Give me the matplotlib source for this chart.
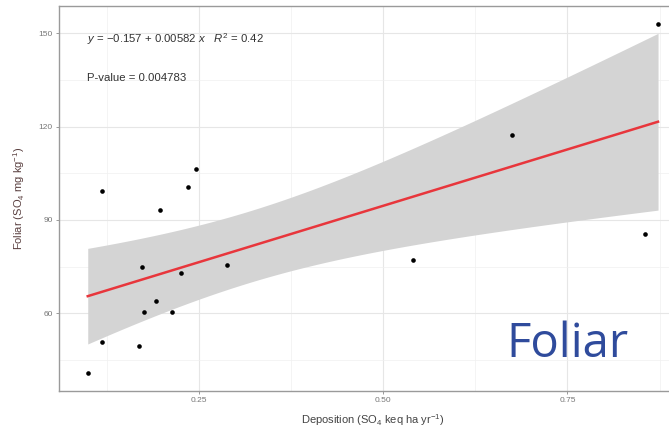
import numpy as np
import matplotlib
matplotlib.use("Agg")
import matplotlib.pyplot as plt
from matplotlib.ticker import FixedLocator

plt.rcParams['font.family'] = ['Liberation Sans', 'DejaVu Sans']
plt.rcParams['mathtext.fontset'] = 'custom'
plt.rcParams['mathtext.rm'] = 'Liberation Sans'
plt.rcParams['mathtext.it'] = 'Liberation Sans:italic'
plt.rcParams['mathtext.bf'] = 'Liberation Sans:bold'

# ---- data ----
deposition = [0.099, 0.118, 0.119, 0.168, 0.172, 0.176, 0.191, 0.197, 0.213,
              0.225, 0.235, 0.246, 0.288, 0.541, 0.675, 0.855, 0.873]
foliar = [40.9, 99.3, 50.8, 49.5, 75.0, 60.4, 64.0, 93.2, 60.4,
          73.0, 100.6, 106.3, 75.5, 77.2, 117.4, 85.6, 153.0]
x_ticks = [0.25, 0.50, 0.75]
x_tick_labels = ["0.25", "0.50", "0.75"]
y_ticks = [60, 90, 120, 150]
y_tick_labels = ["60", "90", "120", "150"]
eq_text = r"$y$ = $-$0.157 + 0.00582 $x$   $R^2$ = 0.42"
p_text = "P-value = 0.004783"
x_label = r"Deposition (SO$_4$ keq ha yr$^{-1}$)"
y_label = r"Foliar (SO$_4$ mg kg$^{-1}$)"
t_crit = 2.131  # t(0.975, df=15)

x = np.array(deposition)
y = np.array(foliar)

fig = plt.figure(figsize=(6.69, 4.33), dpi=100)
W, H = 669, 433
ax = fig.add_axes([59 / W, (H - 391) / H, (687 - 59) / W, (391 - 6) / H])

# linear fit with 95% confidence band
slope, intercept = np.polyfit(x, y, 1)
n = len(x)
resid = y - (intercept + slope * x)
s = np.sqrt(np.sum(resid ** 2) / (n - 2))
sxx = np.sum((x - x.mean()) ** 2)
xf = np.linspace(x.min(), x.max(), 200)
yf = intercept + slope * xf
se = s * np.sqrt(1 / n + (xf - x.mean()) ** 2 / sxx)

ax.fill_between(xf, yf - t_crit * se, yf + t_crit * se, color='#D4D4D4', lw=0, zorder=2)
ax.plot(xf, yf, color='#E8363C', lw=1.8, zorder=3)
ax.scatter(x, y, s=11, color='black', zorder=4, linewidths=0)

ax.set_xlim(0.0600, 0.9123)
ax.set_ylim(35.0, 158.8)

ax.xaxis.set_major_locator(FixedLocator(x_ticks))
ax.set_xticklabels(x_tick_labels)
ax.yaxis.set_major_locator(FixedLocator(y_ticks))
ax.set_yticklabels(y_tick_labels)
ax.xaxis.set_minor_locator(FixedLocator([0.125, 0.375, 0.625, 0.875]))
ax.yaxis.set_minor_locator(FixedLocator([45, 75, 105, 135]))
ax.grid(which='major', color='#E6E6E6', lw=0.8, zorder=0)
ax.grid(which='minor', color='#F0F0F0', lw=0.5, zorder=0)
ax.set_axisbelow(True)

ax.tick_params(which='major', length=2.5, width=0.7, color='#999999',
               labelsize=6, labelcolor='#777777', pad=2)
ax.tick_params(which='minor', length=0)
for sp in ax.spines.values():
    sp.set_color('#9A9A9A')
    sp.set_linewidth(1.0)

ax.set_xlabel(x_label, fontsize=8, color='#444444', labelpad=6)
ax.set_ylabel(y_label, fontsize=8, color='#5A4040', labelpad=8)

ax.text((87 - 59) / 628, (391 - 39) / 385, eq_text, transform=ax.transAxes,
        fontsize=8.2, color='#333333', va='center', ha='left')
ax.text((87 - 59) / 628, (391 - 78) / 385, p_text, transform=ax.transAxes,
        fontsize=8.2, color='#333333', va='center', ha='left')

fig.text(506 / W, (H - 356.7) / H, "Foliar", fontsize=34, color='#2F4B9C',
         family=['Open Sans', 'DejaVu Sans'], va='baseline', ha='left')

fig.savefig("out.png", dpi=100)
